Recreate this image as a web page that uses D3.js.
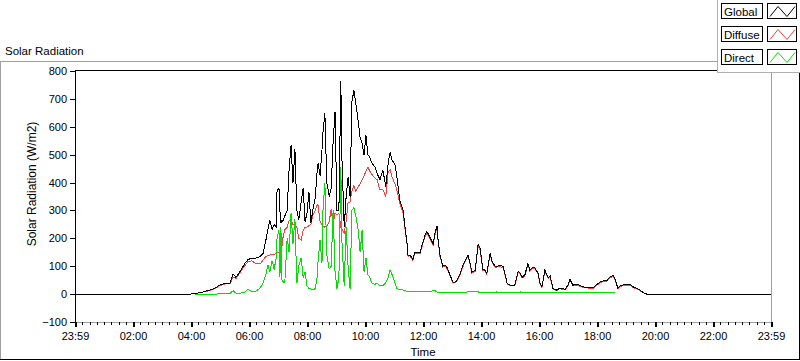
<!DOCTYPE html>
<html><head><meta charset="utf-8">
<script src="https://cdn.jsdelivr.net/npm/d3@7"></script>
<style>
body{margin:0;background:#fff}
svg{display:block}
text{font-family:"Liberation Sans",Arial,sans-serif;fill:#000}
</style>
</head><body><svg id="c" width="800" height="361"></svg>
<script>
// minutes since midnight
const minutes = [
0,238,248,259,269,279,290,300,310,321,
327,333,341,348,352,358,366,374,383,389,
395,399,403,408,412,416,418,422,424,426,
428,430,434,439,443,447,451,455,459,463,
468,472,476,480,484,488,492,497,501,503,
507,511,513,517,521,526,530,534,538,542,
546,550,552,557,561,565,569,573,577,581,
586,590,594,598,602,606,610,614,621,625,
631,637,643,648,652,656,662,666,672,679,
683,687,689,693,699,703,708,714,718,724,
728,734,741,745,749,751,755,761,766,770,
776,782,786,790,797,803,807,813,817,821,
828,834,838,844,848,852,859,863,869,873,
879,886,890,894,900,910,917,921,925,931,
937,941,948,952,958,962,966,972,979,983,
989,997,1003,1014,1020,1024,1030,1039,1045,1055,
1066,1072,1080,1086,1092,1101,1107,1113,1117,1123,
1128,1138,1148,1155,1163,1169,1175,1183,1440];

const globalW = [
0,0,2,5,10,14,22,33,38,40,
72,60,80,100,111,124,129,129,135,145,
194,230,265,232,250,242,370,380,300,254,
265,260,280,300,450,534,400,520,300,265,
330,380,260,290,366,255,300,345,440,470,
425,516,580,648,400,350,380,545,653,300,
300,763,500,240,350,420,350,690,730,684,
620,560,540,500,570,500,490,470,455,433,
410,445,385,470,510,480,465,420,337,300,
236,182,140,140,125,150,150,150,175,210,
225,205,180,220,244,200,140,100,104,95,
68,43,43,48,75,104,120,140,115,79,
85,179,165,88,86,75,147,118,100,100,
102,100,70,39,32,32,82,75,60,70,
111,86,97,93,75,40,25,86,60,65,
20,14,22,17,32,53,32,36,30,25,
23,22,35,43,47,50,61,68,55,22,
30,34,35,26,20,14,6,0,0];

const diffuseW = [
0,0,2,5,9,13,20,31,36,38,
62,55,75,95,103,117,119,110,108,122,
135,138,140,142,143,145,148,150,150,152,
170,200,230,240,265,265,250,245,240,200,
194,230,240,240,245,250,283,300,320,318,
260,250,245,240,245,260,305,250,290,285,
290,240,235,220,260,330,330,370,390,370,
385,395,410,425,440,456,440,430,415,410,
373,375,350,440,445,420,395,373,325,290,
230,178,136,137,121,146,145,146,171,206,
220,200,175,215,238,196,136,97,100,91,
65,41,41,45,72,100,116,136,112,76,
82,174,160,85,83,72,142,114,97,97,
98,96,67,37,30,30,78,72,57,67,
107,83,93,90,72,38,23,82,57,62,
18,12,20,15,30,50,30,33,28,23,
21,20,32,40,44,47,58,65,52,20,
28,31,32,24,18,12,5,0,0];

const directW = [
null,null,0,0,0,0,0,1,2,3,
12,4,3,5,8,18,8,10,22,40,
70,105,80,120,88,128,200,230,62,240,
52,45,40,200,150,290,180,270,40,100,
130,60,80,30,20,18,15,20,60,120,
194,110,300,398,140,90,100,300,80,20,
60,456,200,30,240,100,20,301,310,280,
230,150,230,80,130,70,60,40,35,40,
30,30,40,60,86,70,40,20,15,15,
12,10,9,8,8,8,8,8,9,9,
10,10,12,12,8,6,6,5,5,5,
5,5,5,5,5,6,6,8,10,8,
10,8,6,5,5,5,5,5,6,8,
5,5,5,4,4,4,6,8,5,5,
6,5,5,5,5,4,4,5,5,5,
4,4,4,4,4,4,4,4,4,4,
4,4,4,4,4,4,4,4,4,null,
null,null,null,null,null,null,null,null,null];

const yTicks = [-100,0,100,200,300,400,500,600,700,800];
const xTickMinutes = [0,120,240,360,480,600,720,840,960,1080,1200,1320,1440];
const xTickLabels = ["23:59","02:00","04:00","06:00","08:00","10:00","12:00","14:00","16:00","18:00","20:00","22:00","23:59"];
const seriesNames = ["Global","Diffuse","Direct"];
const seriesColors = ["#000000","#ff3c3c","#00e000"];

const svg = d3.select("#c");
const x = d3.scaleLinear().domain([0,1440]).range([75,771]);
const y = d3.scaleLinear().domain([-100,800]).range([322,71]);

svg.append("rect").attr("width",800).attr("height",361).attr("fill","#fff");

// outer panel borders
const ln = (x1,y1,x2,y2,c) => svg.append("line").attr("x1",x1).attr("y1",y1).attr("x2",x2).attr("y2",y2).attr("stroke",c).attr("stroke-width",1).attr("shape-rendering","crispEdges");
ln(0,61.5,718,61.5,"#a0a0a0");
ln(0.5,61,0.5,360,"#a0a0a0");
ln(0,359.5,800,359.5,"#000");
ln(799.5,72,799.5,360,"#000");

svg.append("text").attr("x",5).attr("y",55).style("font-size","11.5px").text("Solar Radiation");

// plot frame
ln(75,70.5,772,70.5,"#000");
ln(771.5,70,771.5,323,"#a0a0a0");
ln(75,322.5,772,322.5,"#a0a0a0");
ln(75.5,70,75.5,323,"#000");

// y axis
const yAxis = svg.append("g").attr("transform","translate(75,0)")
  .call(d3.axisLeft(y).tickValues(yTicks).tickSize(5).tickPadding(3));
yAxis.select(".domain").remove();
yAxis.selectAll("text").style("font-family","Liberation Sans, Arial, sans-serif").style("font-size","11px").attr("fill","#000");
yAxis.selectAll("line").attr("stroke","#000").attr("shape-rendering","crispEdges");

// x axis minor ticks
const minorVals = d3.range(0,1441,15).filter(v => v % 120 !== 0);
const xMinor = svg.append("g").attr("transform","translate(0,322)")
  .call(d3.axisBottom(x).tickValues(minorVals).tickSize(3).tickFormat(""));
xMinor.select(".domain").remove();
xMinor.selectAll("line").attr("stroke","#000").attr("shape-rendering","crispEdges");

const xAxis = svg.append("g").attr("transform","translate(0,322)")
  .call(d3.axisBottom(x).tickValues(xTickMinutes).tickSize(5).tickPadding(5).tickFormat((d,i)=>xTickLabels[i]));
xAxis.select(".domain").remove();
xAxis.selectAll("line").attr("stroke","#000").attr("stroke-width",2).attr("shape-rendering","crispEdges");
xAxis.selectAll("text").style("font-family","Liberation Sans, Arial, sans-serif").style("font-size","11px").attr("fill","#000");

// axis titles
svg.append("text").attr("x",423).attr("y",356).attr("text-anchor","middle").style("font-size","11.5px").text("Time");
svg.append("text").attr("transform","translate(36,184) rotate(-90)").attr("text-anchor","middle").style("font-size","12px").attr("fill","#2a2a2a").text("Solar Radiation (W/m2)");

// clip
svg.append("clipPath").attr("id","clip").append("rect").attr("x",76).attr("y",71).attr("width",695).attr("height",251);

const mk = arr => minutes.map((t,i)=>({t, v: arr[i]}));
const line = d3.line().defined(d => d.v != null).x(d => x(d.t)).y(d => y(d.v));
const g = svg.append("g").attr("clip-path","url(#clip)");
[[diffuseW,1],[globalW,0],[directW,2]].forEach(([arr,ci]) => {
  g.append("path").datum(mk(arr)).attr("d",line).attr("fill","none")
   .attr("stroke",seriesColors[ci]).attr("stroke-width",1).attr("shape-rendering","crispEdges");
});

// legend
const lg = svg.append("g");
lg.append("rect").attr("x",717.5).attr("y",-1).attr("width",84).attr("height",73.5).attr("fill","#fff").attr("stroke","#b0b0b0");
seriesNames.forEach((name,i) => {
  const yy = 3.5 + 23*i;
  lg.append("rect").attr("x",721.5).attr("y",yy).attr("width",41).attr("height",15).attr("fill","#fff").attr("stroke","#000");
  lg.append("text").attr("x",724).attr("y",yy+12).style("font-size","11.5px").text(name);
  lg.append("rect").attr("x",767.5).attr("y",yy).attr("width",29).attr("height",15).attr("fill","#fff").attr("stroke","#000");
  const pts = [[770,yy+13],[778,yy+3],[787,yy+13],[795,yy+3]];
  lg.append("path").attr("d",d3.line()(pts)).attr("fill","none").attr("stroke",seriesColors[i]).attr("stroke-width",1);
});
</script>
</body></html>
